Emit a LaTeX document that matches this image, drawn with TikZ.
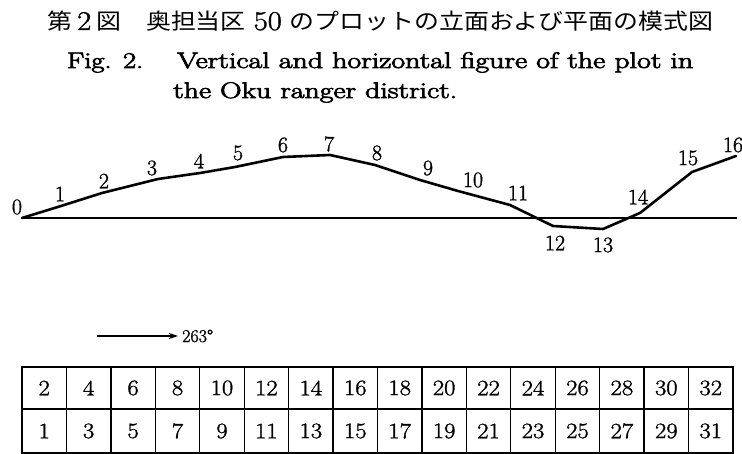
\documentclass[tikz,border=0pt]{standalone}
\usepackage{fontspec}
\usepackage{graphicx}
\usetikzlibrary{arrows.meta}
\newfontfamily\cjk{Noto Sans CJK JP}
\newfontfamily\numfont[FakeBold=1.3]{Latin Modern Roman}
\newfontfamily\ttlfont[FakeBold=3]{Latin Modern Roman}
\begin{document}
\begin{tikzpicture}[x=1pt,y=-1pt,
  lbl/.style={font=\numfont\fontsize{22}{22}\selectfont, inner sep=0pt},
  cell/.style={font=\numfont\fontsize{22}{22}\selectfont, inner sep=0pt, xscale=1.12},
  title/.style={anchor=base west, inner sep=0pt},
  prof/.style={line width=2.6pt, line join=round, line cap=round},
  baseline/.style={line width=2.2pt},
  gridline/.style={line width=1.3pt},
  dirarrow/.style={line width=1.2pt, -{Stealth[length=9pt,width=6pt]}}]
\useasboundingbox (0,0) rectangle (742,454);
\fill[white] (0,0) rectangle (742,454);

% titles
\node[title] (jp) at (47,30) {\resizebox{666pt}{\height}{\cjk\fontsize{22}{22}\selectfont 第{\numfont\fontsize{27}{27}\selectfont\,2\,}図　奥担当区\hspace{7pt}{\numfont\fontsize{27}{27}\selectfont 50}\hspace{7pt}のプロットの立面および平面の模式図}};
\node[title] (fig) at (67,68) {\resizebox{76pt}{\height}{\ttlfont\fontsize{22.5}{22}\selectfont Fig. 2.}};
\node[title] (en1) at (177,68) {\resizebox{516pt}{\height}{\ttlfont\fontsize{22.5}{22}\selectfont Vertical and horizontal figure of the plot in}};
\node[title] (en2) at (173,98) {\resizebox{284pt}{\height}{\ttlfont\fontsize{22.5}{22}\selectfont the Oku ranger district.}};

% profile points
\coordinate (p0) at (22,218);
\coordinate (p1) at (61,206);
\coordinate (p2) at (102,193);
\coordinate (p3) at (158,179);
\coordinate (p4) at (200,173);
\coordinate (p5) at (235,167);
\coordinate (p6) at (283,157);
\coordinate (p7) at (330,155);
\coordinate (p8) at (375,165);
\coordinate (p9) at (420,180);
\coordinate (p10) at (458,191);
\coordinate (p11) at (510,205);
\coordinate (p12) at (553,226);
\coordinate (p13) at (603,229);
\coordinate (p14) at (640,213);
\coordinate (p15) at (692,172);
\coordinate (p16) at (736,156);
\coordinate (hend) at (737,218);

\draw[baseline] (p0) -- (hend);
\draw[prof] (p0) -- (p1) -- (p2) -- (p3) -- (p4) -- (p5) -- (p6) -- (p7) -- (p8)
  -- (p9) -- (p10) -- (p11) -- (p12) -- (p13) -- (p14) -- (p15) -- (p16);

% profile labels
\node[lbl] (l0) at (17,207) {0};
\node[lbl] (l1) at (60,194) {1};
\node[lbl] (l2) at (104,181) {2};
\node[lbl] (l3) at (152,168) {3};
\node[lbl] (l4) at (199,161) {4};
\node[lbl] (l5) at (238,153) {5};
\node[lbl] (l6) at (283,145) {6};
\node[lbl] (l7) at (329,144) {7};
\node[lbl] (l8) at (377,153) {8};
\node[lbl] (l9) at (428,168) {9};
\node[lbl] (l10) at (473,180) {10};
\node[lbl] (l11) at (518,193) {11};
\node[lbl] (l12) at (555,243) {12};
\node[lbl] (l13) at (603,245) {13};
\node[lbl] (l14) at (638,197) {14};
\node[lbl] (l15) at (688,158) {15};
\node[lbl] (l16) at (733,145) {16};

% direction arrow
\coordinate (a0) at (97,336);
\node[anchor=west, inner sep=0pt, font=\numfont\fontsize{18}{18}\selectfont] (deg) at (182,336) {263°};
\draw[dirarrow] (a0) -- ([xshift=-4pt]deg.west);

% plan table
\draw[gridline] (22,367) rectangle (733,453);
\draw[gridline] (22,409) -- (733,409);
\foreach \i in {1,...,15} {
  \draw[gridline] ({22+\i*711/16},367) -- ({22+\i*711/16},453);
}
\foreach \i in {1,...,16} {
  \pgfmathtruncatemacro{\ev}{2*\i}
  \pgfmathtruncatemacro{\od}{2*\i-1}
  \node[cell] (t\ev) at ({22+(\i-0.5)*711/16},388) {\ev};
  \node[cell] (t\od) at ({22+(\i-0.5)*711/16},431) {\od};
}
\end{tikzpicture}
\end{document}
